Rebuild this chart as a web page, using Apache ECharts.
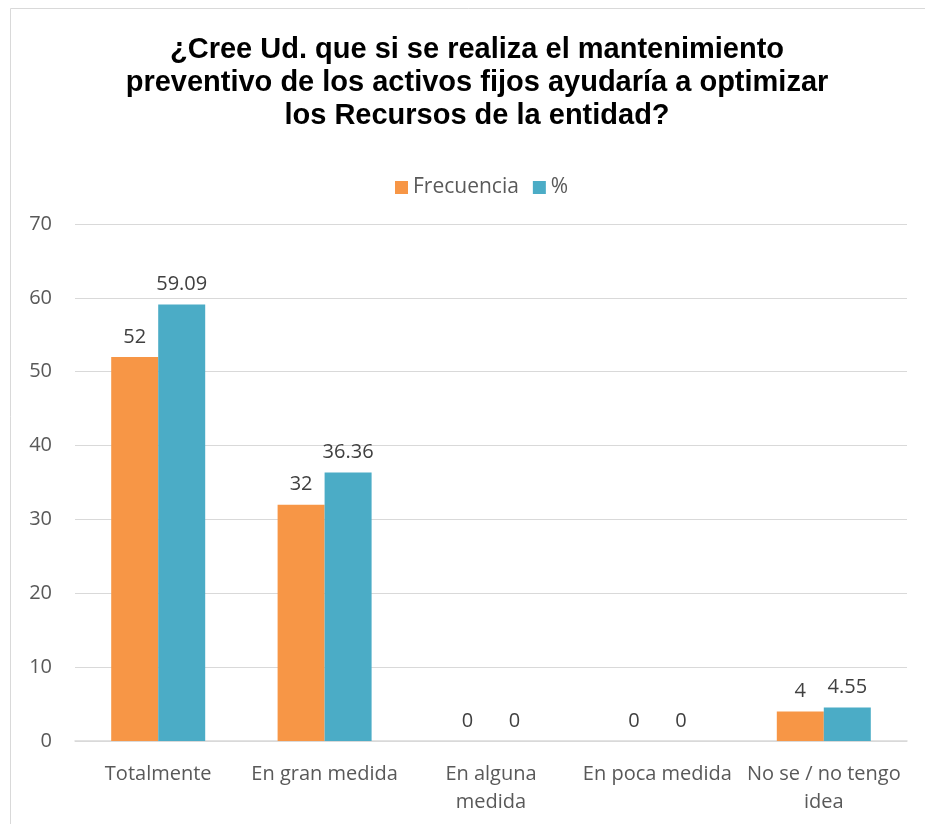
<!DOCTYPE html>
<html>
<head>
<meta charset="utf-8">
<style>
  html, body { margin: 0; padding: 0; background: #fff; }
  #chart { width: 925px; height: 824px; }
</style>
<script src="https://cdn.jsdelivr.net/npm/echarts@6/dist/echarts.min.js"></script>
</head>
<body>
<div id="chart"></div>
<script>
var categories = ['Totalmente', 'En gran medida', 'En alguna\nmedida', 'En poca medida', 'No se / no tengo\nidea'];
var frecuencia = [52, 32, 0, 0, 4];
var porcentaje = [59.09, 36.36, 0, 0, 4.55];
var seriesNames = ['Frecuencia', '%'];
var titleText = '¿Cree Ud. que si se realiza el mantenimiento\npreventivo de los activos fijos ayudaría a optimizar\nlos Recursos de la entidad?';

var chart = echarts.init(document.getElementById('chart'));
var textFont = '"Open Sans", Lato, sans-serif';
var labelStyle = {
  show: true,
  position: 'top',
  distance: 10,
  color: '#404040',
  fontFamily: textFont,
  fontSize: 20
};

chart.setOption({
  animation: false,
  graphic: [{
    type: 'rect',
    shape: { x: 10.5, y: 8.5, width: 930, height: 830 },
    style: { fill: 'none', stroke: '#d9d9d9', lineWidth: 1 },
    silent: true
  }],
  title: {
    text: titleText,
    left: 472,
    top: 28,
    textAlign: 'center',
    textStyle: {
      fontFamily: '"Liberation Sans", Arial, sans-serif',
      fontWeight: 'bold',
      fontSize: 29,
      lineHeight: 33,
      color: '#000'
    }
  },
  legend: {
    data: seriesNames,
    top: 172,
    left: 390,
    itemWidth: 13,
    itemHeight: 13,
    itemGap: 14,
    icon: 'rect',
    textStyle: { fontFamily: textFont, fontSize: 21, color: '#595959' }
  },
  grid: { left: 75, right: 18, top: 224, bottom: 83 },
  xAxis: {
    type: 'category',
    data: categories,
    axisLine: { lineStyle: { color: '#d9d9d9', width: 1.5 } },
    axisTick: { show: false },
    axisLabel: {
      interval: 0,
      margin: 19,
      color: '#595959',
      fontFamily: textFont,
      fontSize: 20,
      lineHeight: 28
    }
  },
  yAxis: {
    type: 'value',
    min: 0,
    max: 70,
    interval: 10,
    axisLine: { show: false },
    axisTick: { show: false },
    splitLine: { lineStyle: { color: '#d9d9d9', width: 1 } },
    axisLabel: {
      margin: 23,
      color: '#595959',
      fontFamily: textFont,
      fontSize: 20
    }
  },
  series: [{
    name: seriesNames[0],
    type: 'bar',
    data: frecuencia,
    barWidth: 47,
    barGap: '0%',
    itemStyle: { color: '#F79646' },
    label: labelStyle
  }, {
    name: seriesNames[1],
    type: 'bar',
    data: porcentaje,
    barWidth: 47,
    barGap: '0%',
    itemStyle: { color: '#4BACC6' },
    label: labelStyle
  }]
});
</script>
</body>
</html>
